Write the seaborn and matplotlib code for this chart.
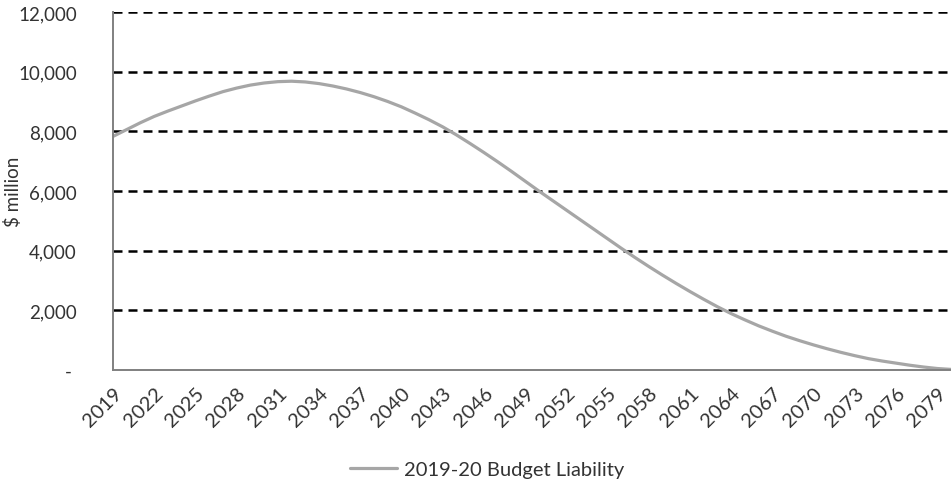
import matplotlib
matplotlib.use("Agg")
import matplotlib.pyplot as plt
import seaborn as sns
import pandas as pd
import numpy as np

years = list(range(2019, 2081))
liability = [7830, 8060, 8290, 8500, 8680, 8850, 9020, 9180, 9330, 9450,
             9550, 9620, 9665, 9680, 9655, 9600, 9520, 9420, 9300, 9160,
             9000, 8820, 8610, 8390, 8150, 7880, 7590, 7290, 6980, 6660,
             6330, 6000, 5680, 5360, 5040, 4720, 4400, 4080, 3770, 3470,
             3180, 2900, 2630, 2370, 2120, 1890, 1680, 1480, 1300, 1130,
             980, 840, 710, 590, 480, 380, 300, 230, 160, 100,
             50, 20]
series_name = "2019-20 Budget Liability"
label_years = list(range(2019, 2080, 3))
tick_years = list(range(2019, 2080, 4))
y_ticks = [0, 2000, 4000, 6000, 8000, 10000, 12000]
y_labels = ["- ", "2,000", "4,000", "6,000", "8,000", "10,000", "12,000"]

df = pd.DataFrame({"Year": years, "Value": liability, "Series": series_name})

sns.set_style("white")
plt.rcParams["font.family"] = ["Lato", "DejaVu Sans"]

W, H = 951, 485
fig = plt.figure(figsize=(W / 100, H / 100), dpi=100)
ax = fig.add_axes([113 / W, 1 - 371 / H, (951 - 113) / W, (371 - 13) / H])

sns.lineplot(data=df, x="Year", y="Value", hue="Series", palette=["#a6a6a6"],
             linewidth=2.3, ax=ax, legend=True)

ax.set_xlim(2019, 2080)
ax.set_ylim(0, 12000)
ax.set_axisbelow(True)

for y in y_ticks[1:]:
    ax.axhline(y, color="black", linewidth=1.8, linestyle=(0, (3.6, 2.4)), zorder=0.5)

ax.set_yticks(y_ticks)
ax.set_yticklabels(y_labels)
ax.tick_params(axis="y", length=0, pad=26, labelsize=13.5, labelcolor="#333333")

ax.set_xticks(label_years)
ax.set_xticklabels([str(y) for y in label_years], rotation=45, ha="right",
                   rotation_mode="anchor")
ax.tick_params(axis="x", which="major", length=0, pad=10, labelsize=14.5,
               labelcolor="#333333")
ax.set_xticks(tick_years, minor=True)
ax.tick_params(axis="x", which="minor", direction="in", length=4, width=1.2,
               color="#808080")

for s in ["top", "right"]:
    ax.spines[s].set_visible(False)
for s in ["left", "bottom"]:
    ax.spines[s].set_color("#808080")
    ax.spines[s].set_linewidth(1.4)

ax.set_xlabel("")
ax.set_ylabel("$ million", fontsize=13.5, color="#333333")
ax.yaxis.set_label_coords((22 - 113) / (951 - 113), 0.5)

handles, labels = ax.get_legend_handles_labels()
ax.get_legend().remove()
fig.legend(handles, labels, loc="center", bbox_to_anchor=(487 / W, 1 - 470 / H),
           frameon=False, fontsize=14.5, handlelength=2.3, handletextpad=0.35,
           labelcolor="#333333")

fig.savefig("out.png", dpi=100)
